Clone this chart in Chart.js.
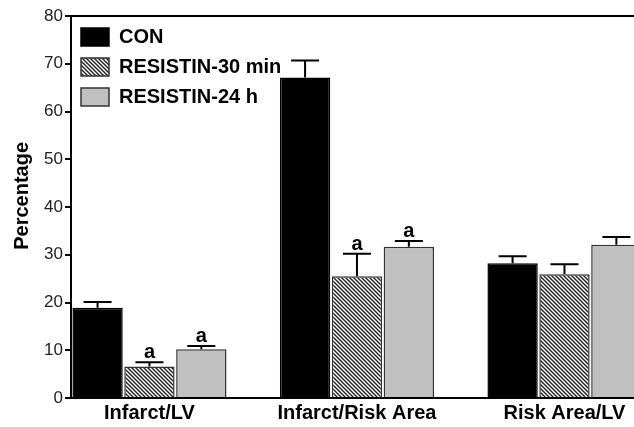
<!DOCTYPE html>
<html>
<head>
<meta charset="utf-8">
<script src="https://cdn.jsdelivr.net/npm/chart.js@4/dist/chart.umd.min.js"></script>
<style>
  html, body { margin: 0; padding: 0; background: #fff; }
  #wrap { width: 634px; height: 427px; }
</style>
</head>
<body>
<div id="wrap"><canvas id="chart"></canvas></div>
<script>
// categorie e serie
const categories = ['Infarct/LV', 'Infarct/Risk Area', 'Risk Area/LV'];
const seriesNames = ['CON', 'RESISTIN-30 min', 'RESISTIN-24 h'];
const conValues = [18.9, 67.1, 28.2];
const res30Values = [6.6, 25.5, 25.9];
const res24Values = [10.2, 31.7, 32.1];
const conErr = [1.2, 3.6, 1.5];
const res30Err = [0.9, 4.7, 2.1];
const res24Err = [0.7, 1.2, 1.6];
// lettere di significatività sopra le barre
const res30Marks = ['a', 'a', ''];
const res24Marks = ['a', 'a', ''];
const yTicks = [0, 10, 20, 30, 40, 50, 60, 70, 80];

const FONT = "Arial, 'Liberation Sans', sans-serif";

// pattern a righe diagonali
function hatchPattern() {
  const s = 4;
  const p = document.createElement('canvas');
  p.width = s; p.height = s;
  const c = p.getContext('2d');
  c.fillStyle = '#fff';
  c.fillRect(0, 0, s, s);
  c.strokeStyle = '#222';
  c.lineWidth = 1.4;
  c.beginPath();
  c.moveTo(-1, -1); c.lineTo(s + 1, s + 1);
  c.moveTo(-1, s - 1); c.lineTo(1, s + 1);
  c.moveTo(s - 1, -1); c.lineTo(s + 1, 1);
  c.stroke();
  return c.createPattern(p, 'repeat');
}

const toPoints = vals => vals.map((v, i) => ({ x: i, y: v }));

const errors = [conErr, res30Err, res24Err];
const marks = [categories.map(() => ''), res30Marks, res24Marks];

// barre d'errore e lettere
const errorBarPlugin = {
  id: 'errorBars',
  afterDatasetsDraw(chart) {
    const ctx = chart.ctx;
    const y = chart.scales.y;
    const area = chart.chartArea;
    ctx.save();
    ctx.beginPath();
    ctx.rect(area.left, 0, area.right - area.left, chart.height);
    ctx.clip();
    chart.data.datasets.forEach((ds, di) => {
      const meta = chart.getDatasetMeta(di);
      meta.data.forEach((bar, j) => {
        const v = ds.data[j].y;
        const e = errors[di][j];
        const yTop = y.getPixelForValue(v + e);
        const yBar = y.getPixelForValue(v);
        ctx.strokeStyle = '#000';
        ctx.lineWidth = 2;
        ctx.beginPath();
        ctx.moveTo(bar.x, yBar);
        ctx.lineTo(bar.x, yTop);
        ctx.moveTo(bar.x - 14, yTop);
        ctx.lineTo(bar.x + 14, yTop);
        ctx.stroke();
        const m = marks[di][j];
        if (m) {
          ctx.fillStyle = '#000';
          ctx.font = 'bold 20px ' + FONT;
          ctx.textAlign = 'center';
          ctx.textBaseline = 'alphabetic';
          ctx.fillText(m, bar.x, yTop - 4);
        }
      });
    });
    ctx.restore();
    // linea superiore del riquadro
    const yt = y.getPixelForValue(80);
    ctx.save();
    ctx.strokeStyle = '#000';
    ctx.lineWidth = 2;
    ctx.beginPath();
    ctx.moveTo(area.left, yt);
    ctx.lineTo(area.right, yt);
    ctx.stroke();
    ctx.restore();
  }
};

const ctx = document.getElementById('chart').getContext('2d');

const myChart = new Chart(ctx, {
  type: 'bar',
  data: {
    datasets: [
      {
        label: seriesNames[0],
        data: toPoints(conValues),
        backgroundColor: '#000',
        borderColor: '#000',
        borderWidth: 1.5,
      },
      {
        label: seriesNames[1],
        data: toPoints(res30Values),
        backgroundColor: hatchPattern(),
        borderColor: '#333',
        borderWidth: 1.5,
      },
      {
        label: seriesNames[2],
        data: toPoints(res24Values),
        backgroundColor: '#c0c0c0',
        borderColor: '#333',
        borderWidth: 1.5,
      },
    ],
  },
  options: {
    responsive: true,
    maintainAspectRatio: false,
    animation: false,
    layout: { padding: { top: 16, right: 0, left: 0, bottom: 0 } },
    categoryPercentage: 0.75,
    barPercentage: 0.97,
    plugins: {
      legend: {
        position: 'chartArea',
        align: 'start',
        title: {
          display: true,
          text: '',
          padding: { top: 0, bottom: 5 },
          font: { family: FONT, size: 10 },
        },
        labels: {
          boxWidth: 28,
          boxHeight: 18,
          padding: 10,
          color: '#000',
          font: { family: FONT, size: 20, weight: 'bold' },
        },
      },
      tooltip: { enabled: false },
    },
    scales: {
      x: {
        type: 'linear',
        offset: false,
        min: -0.378,
        max: 2.335,
        grid: { display: false, drawTicks: false },
        border: { display: true, color: '#000', width: 2 },
        afterBuildTicks: scale => {
          scale.ticks = categories.map((c, i) => ({ value: i }));
        },
        afterFit: scale => {
          scale.height = 29;
          scale.paddingLeft = 0;
          scale.paddingRight = 0;
        },
        ticks: {
          autoSkip: false,
          maxRotation: 0,
          padding: 3,
          color: '#000',
          font: { family: FONT, size: 20, weight: 'bold' },
          callback: v => categories[v],
        },
      },
      y: {
        min: 0,
        max: 80,
        afterBuildTicks: scale => {
          scale.ticks = yTicks.map(v => ({ value: v }));
        },
        afterFit: scale => {
          scale.width = 71;
        },
        grid: {
          drawOnChartArea: false,
          drawTicks: true,
          tickLength: 6,
          color: '#000',
          lineWidth: 2,
        },
        border: { display: true, color: '#000', width: 2 },
        ticks: {
          padding: 2,
          color: '#222',
          font: { family: FONT, size: 17 },
        },
        title: {
          display: true,
          text: '    Percentage',
          color: '#000',
          padding: { top: 10, bottom: 2 },
          font: { family: FONT, size: 20, weight: 'bold' },
        },
      },
    },
  },
  plugins: [errorBarPlugin],
});
</script>
</body>
</html>
